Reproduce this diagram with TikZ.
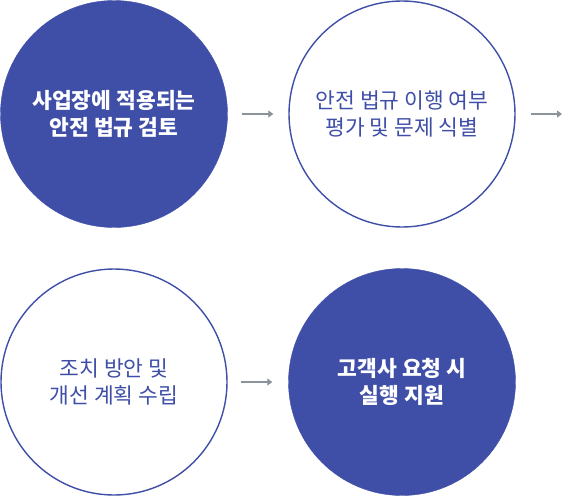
\documentclass[tikz,border=0pt]{standalone}
\usepackage{fontspec}
\setmainfont{Noto Sans CJK KR}
\usepackage{xcolor}
\usepackage{tikz}
\usetikzlibrary{arrows.meta}

\definecolor{stepblue}{HTML}{3F4FA8}
\definecolor{arrowgray}{HTML}{8A939C}

\begin{document}
\begin{tikzpicture}[
  x=1pt,y=-1pt,
  font=\fontsize{21.5}{27.5}\selectfont,
  filledstep/.style={circle,fill=stepblue,draw=stepblue,minimum size=227pt,inner sep=0pt,
    align=center,text=white,font=\fontsize{21.5}{27.5}\selectfont\bfseries},
  openstep/.style={circle,draw=stepblue,line width=1.4pt,fill=white,minimum size=226pt,
    inner sep=0pt,align=center,text=stepblue},
  arrow/.style={-{Triangle[length=5pt,width=7pt]},line width=1.6pt,draw=arrowgray}
]
\useasboundingbox (0,0) rectangle (562,496);
\node[filledstep] (review) at (114,114) {사업장에 적용되는\\안전 법규 검토};
\node[openstep] (assess) at (402,114) {안전 법규 이행 여부\\평가 및 문제 식별};
\node[openstep] (plan) at (114,382) {조치 방안 및\\개선 계획 수립};
\node[filledstep] (support) at (402,382) {고객사 요청 시\\실행 지원};
\coordinate (next) at (562,114);
\draw[arrow,shorten <=14pt,shorten >=15pt] (review) -- (assess);
\draw[arrow,shorten <=15pt] (assess) -- (next);
\draw[arrow,shorten <=13pt,shorten >=16pt] (plan) -- (support);
\end{tikzpicture}
\end{document}
